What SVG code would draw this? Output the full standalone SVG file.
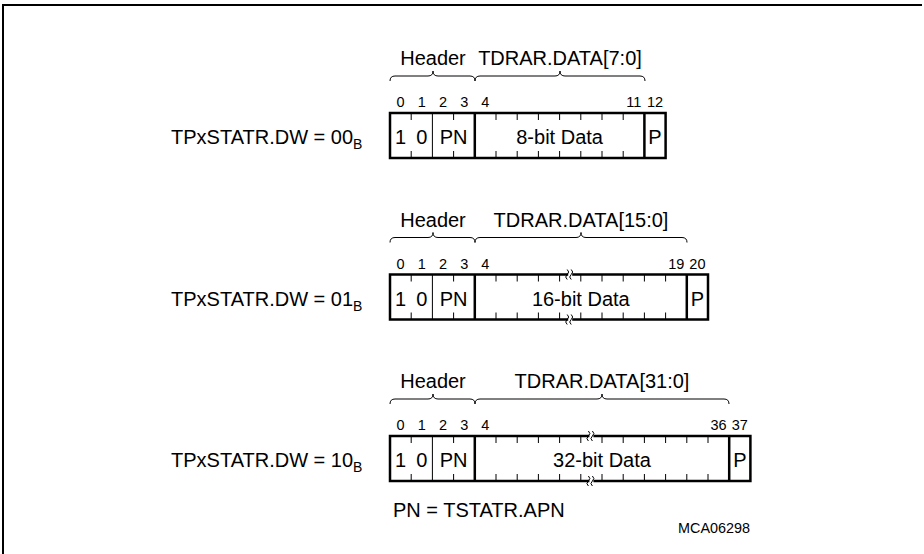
<svg xmlns="http://www.w3.org/2000/svg" width="924" height="554" viewBox="0 0 924 554">
<style>
text{font-family:"Liberation Sans",Arial,sans-serif;fill:#000}
.t{font-size:20px}
.bit{font-size:14.5px;text-anchor:middle}
.m{text-anchor:middle}
.box{fill:#fff;stroke:#000;stroke-width:2.5}
.thick{stroke:#000;stroke-width:2.5;fill:none}
.thin{stroke:#000;stroke-width:1;fill:none}
.brace{stroke:#000;stroke-width:1;fill:none}
.gap{fill:#fff;stroke:none}
</style>
<defs>
<g id="brk">
<rect class="gap" x="-2" y="-2" width="4" height="4"/>
<path class="thin" d="M-3,-5 q3,2.5 0,5 t0,5 M1,-5 q3,2.5 0,5 t0,5"/>
</g>
</defs>
<path class="thin" d="M3,554 L3,5 L922,5" style="stroke-width:2"/>

<g id="reg1">
<text class="t" x="171" y="144">TPxSTATR.DW = 00<tspan font-size="14" dy="5">B</tspan></text>
<text class="t m" x="433" y="65">Header</text>
<text class="t m" x="560" y="65">TDRAR.DATA[7:0]</text>
<path class="brace" d="M390,81 Q390,76 395,76 L428,76 Q433,76 433,71 Q433,76 438,76 L470,76 Q475,76 475,81"/>
<path class="brace" d="M475,81 Q475,76 480,76 L555,76 Q560,76 560,71 Q560,76 565,76 L640,76 Q645,76 645,81"/>
<text class="bit" x="400.6" y="107">0</text><text class="bit" x="421.8" y="107">1</text><text class="bit" x="443" y="107">2</text><text class="bit" x="464.2" y="107">3</text><text class="bit" x="485.4" y="107">4</text><text class="bit" x="633.8" y="107">11</text><text class="bit" x="655" y="107">12</text>
<rect class="box" x="390" y="113" width="275.6" height="45"/>
<path class="thin" d="M411.2,113v7M411.2,158v-7M453.6,113v7M453.6,158v-7M432.4,113V158
M496,113v7M496,158v-7M517.2,113v7M517.2,158v-7M538.4,113v7M538.4,158v-7M559.6,113v7M559.6,158v-7M580.8,113v7M580.8,158v-7M602,113v7M602,158v-7M623.2,113v7M623.2,158v-7"/>
<path class="thick" d="M474.8,113V158M644.4,113V158"/>
<text class="t m" x="400.6" y="144">1</text><text class="t m" x="421.8" y="144">0</text><text class="t m" x="453.6" y="144">PN</text>
<text class="t m" x="559.6" y="144">8-bit Data</text>
<text class="t m" x="655" y="144">P</text>
</g>

<g id="reg2">
<text class="t" x="171" y="305.5">TPxSTATR.DW = 01<tspan font-size="14" dy="5">B</tspan></text>
<text class="t m" x="433" y="226.5">Header</text>
<text class="t m" x="581" y="226.5">TDRAR.DATA[15:0]</text>
<path class="brace" d="M390,242.5 Q390,237.5 395,237.5 L428,237.5 Q433,237.5 433,232.5 Q433,237.5 438,237.5 L470,237.5 Q475,237.5 475,242.5"/>
<path class="brace" d="M475,242.5 Q475,237.5 480,237.5 L576,237.5 Q581,237.5 581,232.5 Q581,237.5 586,237.5 L682,237.5 Q687,237.5 687,242.5"/>
<text class="bit" x="400.6" y="268.5">0</text><text class="bit" x="421.8" y="268.5">1</text><text class="bit" x="443" y="268.5">2</text><text class="bit" x="464.2" y="268.5">3</text><text class="bit" x="485.4" y="268.5">4</text><text class="bit" x="676.2" y="268.5">19</text><text class="bit" x="697.4" y="268.5">20</text>
<rect class="box" x="390" y="274.5" width="318" height="45"/>
<path class="thin" d="M411.2,274.5v7M411.2,319.5v-7M453.6,274.5v7M453.6,319.5v-7M432.4,274.5V319.5
M496,274.5v7M496,319.5v-7M517.2,274.5v7M517.2,319.5v-7M538.4,274.5v7M538.4,319.5v-7M559.6,274.5v7M559.6,319.5v-7M580.8,274.5v7M580.8,319.5v-7M602,274.5v7M602,319.5v-7M623.2,274.5v7M623.2,319.5v-7M644.4,274.5v7M644.4,319.5v-7M665.6,274.5v7M665.6,319.5v-7"/>
<path class="thick" d="M474.8,274.5V319.5M686.8,274.5V319.5"/>
<use href="#brk" x="570.2" y="274.5"/>
<use href="#brk" x="570.2" y="319.5"/>
<text class="t m" x="400.6" y="305.5">1</text><text class="t m" x="421.8" y="305.5">0</text><text class="t m" x="453.6" y="305.5">PN</text>
<text class="t m" x="580.8" y="305.5">16-bit Data</text>
<text class="t m" x="697.4" y="305.5">P</text>
</g>

<g id="reg3">
<text class="t" x="171" y="467">TPxSTATR.DW = 10<tspan font-size="14" dy="5">B</tspan></text>
<text class="t m" x="433" y="388">Header</text>
<text class="t m" x="602" y="388">TDRAR.DATA[31:0]</text>
<path class="brace" d="M390,404 Q390,399 395,399 L428,399 Q433,399 433,394 Q433,399 438,399 L470,399 Q475,399 475,404"/>
<path class="brace" d="M475,404 Q475,399 480,399 L597,399 Q602,399 602,394 Q602,399 607,399 L724,399 Q729,399 729,404"/>
<text class="bit" x="400.6" y="430">0</text><text class="bit" x="421.8" y="430">1</text><text class="bit" x="443" y="430">2</text><text class="bit" x="464.2" y="430">3</text><text class="bit" x="485.4" y="430">4</text><text class="bit" x="718.6" y="430">36</text><text class="bit" x="739.8" y="430">37</text>
<rect class="box" x="390" y="436" width="360.4" height="45"/>
<path class="thin" d="M411.2,436v7M411.2,481v-7M453.6,436v7M453.6,481v-7M432.4,436V481
M496,436v7M496,481v-7M517.2,436v7M517.2,481v-7M538.4,436v7M538.4,481v-7M559.6,436v7M559.6,481v-7M580.8,436v7M580.8,481v-7M602,436v7M602,481v-7M623.2,436v7M623.2,481v-7M644.4,436v7M644.4,481v-7M665.6,436v7M665.6,481v-7M686.8,436v7M686.8,481v-7M708,436v7M708,481v-7"/>
<path class="thick" d="M474.8,436V481M729.2,436V481"/>
<use href="#brk" x="591.4" y="436"/>
<use href="#brk" x="591.4" y="481"/>
<text class="t m" x="400.6" y="467">1</text><text class="t m" x="421.8" y="467">0</text><text class="t m" x="453.6" y="467">PN</text>
<text class="t m" x="602" y="467">32-bit Data</text>
<text class="t m" x="739.8" y="467">P</text>
</g>

<text class="t" x="393" y="517">PN = TSTATR.APN</text>
<text x="750" y="533" style="font-size:14.4px;text-anchor:end">MCA06298</text>
</svg>
